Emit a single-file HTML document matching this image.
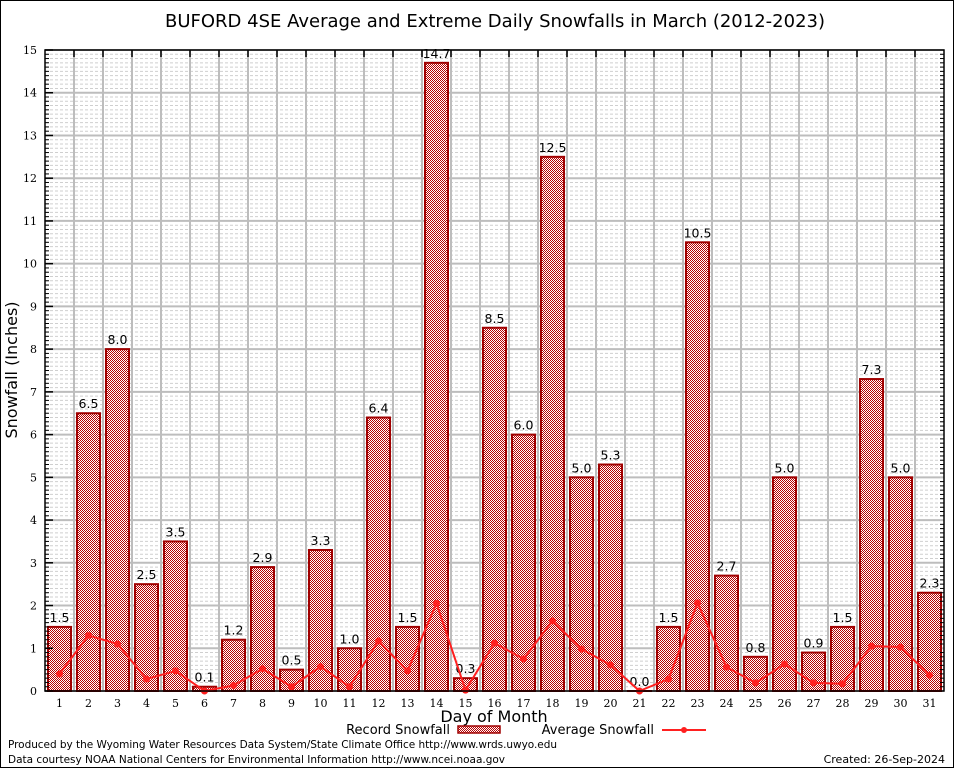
<!DOCTYPE html>
<html><head><meta charset="utf-8"><style>
html,body{margin:0;padding:0;background:#fff}
svg{display:block;font-family:"DejaVu Sans","Liberation Sans",sans-serif}
</style></head><body>
<svg id="chart" width="954" height="768" viewBox="0 0 954 768" xmlns="http://www.w3.org/2000/svg">
<defs>
<pattern id="chk" width="2" height="2" patternUnits="userSpaceOnUse">
<rect width="2" height="2" fill="#fff"/><rect width="1" height="1" fill="#b80000"/><rect x="1" y="1" width="1" height="1" fill="#b80000"/>
</pattern>
</defs>
<rect x="0.5" y="0.5" width="953" height="767" fill="#fff" stroke="#000"/>
<text x="495" y="27" font-size="18" text-anchor="middle" fill="#000">BUFORD 4SE Average and Extreme Daily Snowfalls in March (2012-2023)</text>
<g id="grid"></g>
<g id="bars"></g>
<g id="line"></g>
<rect x="45" y="50" width="899" height="641" fill="none" stroke="#000" stroke-width="1.5"/>
<g id="axes"></g>
<text x="17" y="370" font-size="16" text-anchor="middle" transform="rotate(-90 17 370)">Snowfall (Inches)</text>
<text x="494" y="722" font-size="16" text-anchor="middle">Day of Month</text>
<g>
<text x="450" y="734" font-size="13" text-anchor="end">Record Snowfall</text>
<rect x="458" y="726" width="42" height="7" fill="url(#chk)" stroke="#a00000" stroke-width="1.5"/>
<text x="654" y="734" font-size="13" text-anchor="end">Average Snowfall</text>
<line x1="662" y1="730" x2="706" y2="730" stroke="#ff2020" stroke-width="2"/>
<circle cx="684" cy="730" r="3" fill="#ff2020"/>
</g>
<text x="8" y="748" font-size="10.5" textLength="549">Produced by the Wyoming Water Resources Data System/State Climate Office http://www.wrds.uwyo.edu</text>
<text x="8" y="763" font-size="10.5" textLength="497">Data courtesy NOAA National Centers for Environmental Information http://www.ncei.noaa.gov</text>
<text x="945" y="763" font-size="11" text-anchor="end">Created: 26-Sep-2024</text>
</svg>
<script>
const days=[1,2,3,4,5,6,7,8,9,10,11,12,13,14,15,16,17,18,19,20,21,22,23,24,25,26,27,28,29,30,31];
const recordValues=[1.5,6.5,8.0,2.5,3.5,0.1,1.2,2.9,0.5,3.3,1.0,6.4,1.5,14.7,0.3,8.5,6.0,12.5,5.0,5.3,0.0,1.5,10.5,2.7,0.8,5.0,0.9,1.5,7.3,5.0,2.3];
const averageValues=[0.4,1.3,1.1,0.28,0.47,0.0,0.13,0.52,0.1,0.57,0.1,1.17,0.47,2.05,0.02,1.12,0.75,1.64,0.98,0.61,0.0,0.28,2.06,0.56,0.19,0.63,0.19,0.17,1.05,1.03,0.37];
const yTicks=[0,1,2,3,4,5,6,7,8,9,10,11,12,13,14,15];
const NS="http://www.w3.org/2000/svg";
const L=45,R=944,T=50,B=691,yMax=15;
const xS=d=>L+(d-0.5)*(R-L)/days.length;
const yS=v=>B-v*(B-T)/yMax;
function mk(tag,attrs,parent){const e=document.createElementNS(NS,tag);for(const k in attrs)e.setAttribute(k,attrs[k]);parent.appendChild(e);return e;}
const grid=document.getElementById('grid'),bars=document.getElementById('bars'),line=document.getElementById('line'),axes=document.getElementById('axes');
for(let i=1;i<yMax*10;i++){if(i%10===0)continue;const y=yS(i/10);
const l=mk('line',{x1:L,x2:R,y1:y,y2:y,stroke:'#cfcfcf','stroke-width':1,'stroke-dasharray':'3,2'},grid);

}
yTicks.forEach(v=>{const y=yS(v);
const l=mk('line',{x1:L,x2:R,y1:y,y2:y,stroke:'#bdbdbd','stroke-width':2},grid);


const t=mk('text',{x:L-8,y:y+4,'font-size':11,'text-anchor':'end','font-family':'DejaVu Serif, Liberation Serif, serif'},axes);t.textContent=v;


const tk=mk('line',{x1:L,x2:L+8,y1:y,y2:y,stroke:'#000','stroke-width':1.5},axes);

});
for(let i=1;i<yMax*10;i++){if(i%10===0)continue;const y=yS(i/10);
const tk=mk('line',{x1:L,x2:L+4,y1:y,y2:y,stroke:'#000'},axes);


const tk2=mk('line',{x1:R-4,x2:R,y1:y,y2:y,stroke:'#000'},axes);

}
for(let i=1;i<days.length;i++){const x=xS(i+0.5);
const l=mk('line',{x1:x,x2:x,y1:T,y2:B,stroke:'#bdbdbd','stroke-width':2},grid);


const tk=mk('line',{x1:x,x2:x,y1:T,y2:T+7,stroke:'#000','stroke-width':1.5},axes);

}
const bw=23;
days.forEach((d,i)=>{const v=recordValues[i];const x=xS(d);const y=yS(v);
const r=mk('rect',{x:x-bw/2,y:y,width:bw,height:Math.max(B-y,0.01),fill:'url(#chk)',stroke:'#a00000','stroke-width':2},bars);


const t=mk('text',{x:x,y:y-5,'font-size':12.5,'text-anchor':'middle'},bars);t.textContent=v.toFixed(1);


const xl=mk('text',{x:x,y:B+16,'font-size':11,'text-anchor':'middle','font-family':'DejaVu Serif, Liberation Serif, serif'},axes);xl.textContent=d;

});
const pts=days.map((d,i)=>xS(d)+','+yS(averageValues[i])).join(' ');
const pl=mk('polyline',{points:pts,fill:'none',stroke:'#ff2020','stroke-width':2},line);


days.forEach((d,i)=>{const c=mk('circle',{cx:xS(d),cy:yS(averageValues[i]),r:3.5,fill:'#ff2020'},line);

});
</script>
</body></html>
